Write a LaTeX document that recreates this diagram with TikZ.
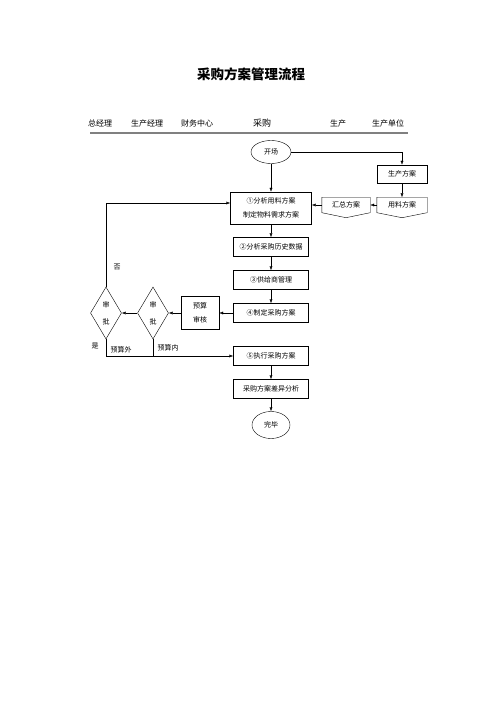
\documentclass[tikz,border=0pt]{standalone}
\usepackage{fontspec}
\setmainfont{Noto Sans CJK SC}
\usetikzlibrary{positioning,arrows.meta,shapes.geometric}

\tikzset{
  proc/.style={draw, minimum width=75pt, minimum height=19pt, inner sep=1pt,
    font=\fontsize{7}{14}\selectfont, align=center},
  term/.style={draw, ellipse, inner sep=0pt, font=\fontsize{7}{9}\selectfont},
  judge/.style={draw, diamond, aspect=0.6, inner sep=0pt, minimum width=31pt,
    minimum height=52pt, font=\fontsize{7}{17}\selectfont, align=center},
  offpage/.style={minimum width=48pt, minimum height=15pt, inner sep=1pt,
    font=\fontsize{7}{9}\selectfont},
  role/.style={font=\fontsize{8}{9}\selectfont},
  tag/.style={font=\fontsize{7}{9}\selectfont},
  flow/.style={-{Latex[length=4pt,width=3pt]}},
}

\begin{document}
\begin{tikzpicture}[x=1pt, y=-1pt]
  \useasboundingbox (0,0) rectangle (500,708);
  % title and lanes
  \node[font=\fontsize{13.5}{15}\selectfont\bfseries] (title) at (251,74) {采购方案管理流程};
  \node[role] (gm) at (100,123) {总经理};
  \node[role] (pm) at (147,123) {生产经理};
  \node[role] (fin) at (197,123) {财务中心};
  \node[role, font=\fontsize{9}{10}\selectfont] (buy) at (262,123) {采购};
  \node[role] (prod) at (338,123) {生产};
  \node[role] (unit) at (388,123) {生产单位};
  \draw[gray, line width=1.2pt] (90,133) -- (408,133);

  % main column
  \node[term, minimum width=40pt, minimum height=23pt] (start) at (271,152) {开场};
  \node[proc, on grid, below=56pt of start, minimum width=81pt, minimum height=32pt] (analyse) {①分析用料方案\\制定物料需求方案};
  \node[proc, on grid, below=39pt of analyse] (history) {②分析采购历史数据};
  \node[proc, on grid, below=33pt of history] (supplier) {③供给商管理};
  \node[proc, on grid, below=33pt of supplier] (plan) {④制定采购方案};
  \node[proc, on grid, below=43pt of plan] (execute) {⑤执行采购方案};
  \node[proc, on grid, below=33pt of execute] (diff) {采购方案差异分析};
  \node[term, on grid, below=36pt of diff, minimum width=38pt, minimum height=27pt] (stop) {完毕};

  % approvals
  \node[proc, on grid, left=71pt of plan, minimum width=38pt, minimum height=33pt] (budget) {预算\\审核};
  \node[judge, on grid, left=47pt of budget] (check2) {审\\批};
  \node[judge, on grid, left=47pt of check2] (check1) {审\\批};

  % production side
  \node[proc, minimum width=50pt, minimum height=18pt] (prodplan) at (402,174) {生产方案};
  \node[offpage, on grid, below=31pt of prodplan, minimum width=50pt] (usage) {用料方案};
  \node[offpage, on grid, left=56pt of usage] (summary) {汇总方案};
  \foreach \n in {usage, summary}
    \draw (\n.north west) -- (\n.north east) -- (\n.south east)
      -- ([yshift=-5pt]\n.south) -- (\n.south west) -- cycle;

  % connectors
  \draw[flow] (start) -- (analyse);
  \draw[flow] (start.east) -| (prodplan.north);
  \draw[flow] (prodplan) -- (usage);
  \draw[flow] (usage) -- (summary);
  \draw[flow] (summary.west) -- (summary.west -| analyse.east);
  \draw[flow] (analyse) -- (history);
  \draw[flow] (history) -- (supplier);
  \draw[flow] (supplier) -- (plan);
  \draw[flow] (plan) -- (budget);
  \draw[flow] (budget) -- (check2);
  \draw[flow] (check2) -- (check1);
  \draw[flow] (check1.north) |- ([yshift=5pt]analyse.west);
  \draw[flow] (check1.south) |- (execute.west);
  \draw (check2.south) -- (check2.south |- execute.west);
  \draw[flow] (execute) -- (diff);
  \draw[flow] (diff) -- (stop);

  \node[tag] (no) at (117,267) {否};
  \node[tag] (yes) at (95,346) {是};
  \node[tag] (outside) at (121,350) {预算外};
  \node[tag] (inside) at (168,348) {预算内};
\end{tikzpicture}
\end{document}
